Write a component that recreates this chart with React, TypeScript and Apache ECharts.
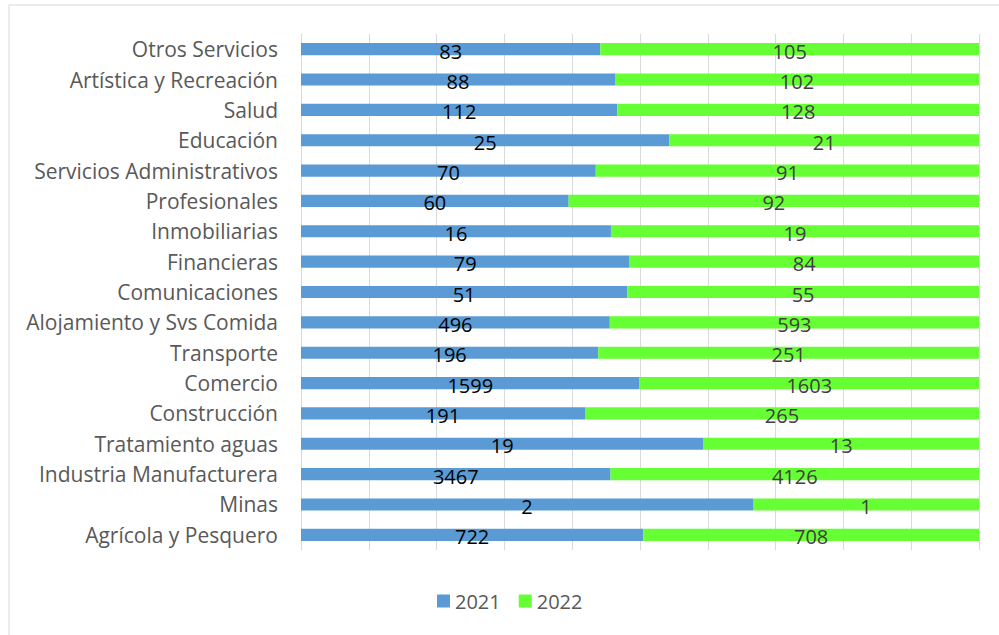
import React, { useEffect, useRef } from "react";
import * as echarts from "echarts";

const categories = [
  "Otros Servicios",
  "Artística y Recreación",
  "Salud",
  "Educación",
  "Servicios Administrativos",
  "Profesionales",
  "Inmobiliarias",
  "Financieras",
  "Comunicaciones",
  "Alojamiento y Svs Comida",
  "Transporte",
  "Comercio",
  "Construcción",
  "Tratamiento aguas",
  "Industria Manufacturera",
  "Minas",
  "Agrícola y Pesquero",
];
const values2021 = [83, 88, 112, 25, 70, 60, 16, 79, 51, 496, 196, 1599, 191, 19, 3467, 2, 722];
const values2022 = [105, 102, 128, 21, 91, 92, 19, 84, 55, 593, 251, 1603, 265, 13, 4126, 1, 708];
const seriesNames = ["2021", "2022"];

const FONT = "Open Sans";

export default function App() {
  const ref = useRef<HTMLDivElement>(null);
  useEffect(() => {
    if (!ref.current) return;
    const chart = echarts.init(ref.current, undefined, { renderer: "svg" });
    const totals = values2021.map((v, i) => v + values2022[i]);
    const pct = (arr: number[]) => arr.map((v, i) => ({ value: (v / totals[i]) * 100, raw: v }));
    const mkSeries = (name: string, arr: number[], color: string, labelColor: string) => ({
      name,
      type: "bar",
      stack: "total",
      barCategoryGap: "60%",
      data: pct(arr),
      itemStyle: { color },
      label: {
        show: true,
        position: "inside",
        offset: [0, 2],
        color: labelColor,
        fontFamily: FONT,
        fontSize: 20,
        formatter: (p: any) => String(p.data.raw),
      },
    });
    chart.setOption({
      animation: false,
      backgroundColor: "#ffffff",
      graphic: [
        {
          type: "rect",
          shape: { x: 9, y: 5, width: 1200, height: 800 },
          style: { fill: "none", stroke: "#d9d9d9", lineWidth: 1 },
          silent: true,
        },
      ],
      grid: { left: 301, right: 20, top: 34, bottom: 85, containLabel: false },
      xAxis: {
        type: "value",
        min: 0,
        max: 100,
        interval: 10,
        axisLabel: { show: false },
        axisLine: { show: false },
        axisTick: { show: false },
        splitLine: { show: true, lineStyle: { color: "#d9d9d9", width: 1 } },
      },
      yAxis: {
        type: "category",
        data: categories,
        inverse: true,
        axisLine: { show: true, lineStyle: { color: "#d9d9d9" } },
        axisTick: { show: false },
        axisLabel: {
          color: "#595959",
          fontFamily: FONT,
          fontSize: 21,
          margin: 23,
        },
      },
      legend: {
        data: seriesNames,
        bottom: 19,
        left: 432,
        itemWidth: 13,
        itemHeight: 13,
        itemGap: 18,
        icon: "rect",
        textStyle: { color: "#595959", fontFamily: FONT, fontSize: 20 },
      },
      series: [
        mkSeries(seriesNames[0], values2021, "#5b9bd5", "#000000"),
        mkSeries(seriesNames[1], values2022, "#66ff33", "#404040"),
      ],
    });
    return () => chart.dispose();
  }, []);
  return (
    <div
      ref={ref}
      style={{ position: "fixed", left: 0, top: 0, width: 999, height: 635, background: "#fff" }}
    />
  );
}
